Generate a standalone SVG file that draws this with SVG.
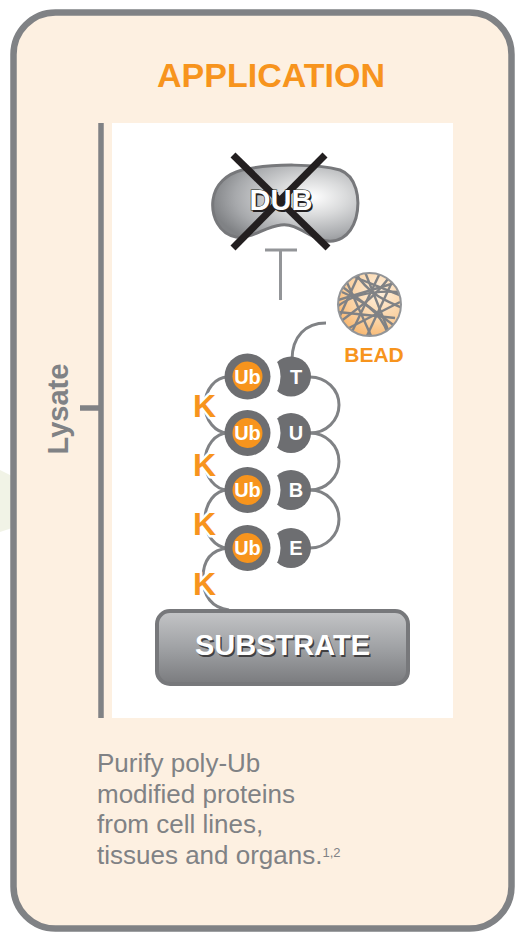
<svg xmlns="http://www.w3.org/2000/svg" width="515" height="933" viewBox="0 0 515 933">
  <style>
    .sans { font-family: "Liberation Sans", Arial, Helvetica, sans-serif; }
    .title { font-size: 34px; font-weight: bold; fill: #F7941D; }
    .body { font-size: 26px; fill: #808285; }
    .side { font-size: 29px; font-weight: bold; fill: #808285; }
    .k { font-size: 32px; font-weight: bold; fill: #F7941D; stroke: #FFFFFF; stroke-width: 5px; paint-order: stroke; stroke-linejoin: round; }
    .ubtxt { font-size: 20px; font-weight: bold; fill: #FFFFFF; }
    .disctxt { font-size: 20px; font-weight: bold; fill: #FFFFFF; }
    .link { fill: none; stroke: #808285; stroke-width: 3; }
    .ubouter { fill: #6D6E71; }
    .ubinner { fill: #F7941D; }
    .disc { fill: #6D6E71; }
    .mesh { fill: none; stroke: #808285; stroke-width: 2.4; }
  </style>
  <defs>
    <radialGradient id="dubFill" cx="0.68" cy="0.42" r="0.7">
      <stop offset="0" stop-color="#FFFFFF"/>
      <stop offset="0.35" stop-color="#D9DADB"/>
      <stop offset="0.75" stop-color="#A7A9AC"/>
      <stop offset="1" stop-color="#808285"/>
    </radialGradient>
    <radialGradient id="beadFill" cx="0.65" cy="0.3" r="0.8">
      <stop offset="0" stop-color="#FEF0DE"/>
      <stop offset="0.6" stop-color="#FBD2A2"/>
      <stop offset="1" stop-color="#F8B266"/>
    </radialGradient>
    <linearGradient id="subFill" x1="0" y1="0" x2="0" y2="1">
      <stop offset="0" stop-color="#C4C5C7"/>
      <stop offset="0.5" stop-color="#A0A2A5"/>
      <stop offset="1" stop-color="#7A7B7E"/>
    </linearGradient>
    <clipPath id="beadClip">
      <circle cx="369.5" cy="304.5" r="31.5"/>
    </clipPath>
    <!-- crescent cut that gives each TUBE domain its concave left side -->
    <mask id="discCut" maskUnits="userSpaceOnUse" x="-100" y="-100" width="715" height="300">
      <rect x="-100" y="-100" width="715" height="300" fill="#FFFFFF"/>
      <circle cx="247.5" cy="0" r="33" fill="#000000"/>
    </mask>
  </defs>

  <!-- faint backdrop shape at the left margin -->
  <path d="M0,470 L12,476 L12,528 L0,532 Z" fill="#F1F3E6"/>

  <!-- application panel -->
  <g id="panel">
    <rect x="13.5" y="12.5" width="498" height="916" rx="42" ry="42" fill="#FDF0E1" stroke="#808285" stroke-width="6.5"/>
    <text class="sans title" x="271" y="87" text-anchor="middle">APPLICATION</text>
  </g>

  <!-- white diagram field -->
  <rect x="112" y="123" width="341" height="595" fill="#FFFFFF"/>

  <!-- lysate bracket -->
  <g id="lysate">
    <line x1="101" y1="123" x2="101" y2="718" stroke="#808285" stroke-width="5.5"/>
    <line x1="80" y1="408" x2="101" y2="408" stroke="#808285" stroke-width="5.5"/>
    <text class="sans side" transform="translate(68,409) rotate(-90)" text-anchor="middle">Lysate</text>
  </g>

  <!-- connectors -->
  <g id="connectors">
    <!-- inhibition bar below DUB -->
    <line x1="265" y1="250" x2="297" y2="250" stroke="#939598" stroke-width="3"/>
    <line x1="280.5" y1="250" x2="280.5" y2="300" stroke="#939598" stroke-width="3"/>
    <!-- bead tether -->
    <path class="link" d="M326,323 C306,323 292,336 292,360"/>
    <!-- TUBE loops on the right -->
    <path class="link" d="M310,377 A29 28 0 0 1 310,433"/>
    <path class="link" d="M310,433 A29 28.5 0 0 1 310,490"/>
    <path class="link" d="M310,490 A29 29 0 0 1 310,548"/>
    <!-- ubiquitin chain links on the left -->
    <path class="link" d="M228,377 A23 28 0 0 0 228,433"/>
    <path class="link" d="M228,433 A23 28.5 0 0 0 228,490"/>
    <path class="link" d="M228,490 A23 29 0 0 0 228,548"/>
    <path class="link" d="M228,548 C210,550 203,562 203,578 C203,596 212,608 229,610"/>
  </g>

  <!-- deubiquitinase, crossed out -->
  <g id="dub">
    <path d="M242,170 C272,163 318,164 340,170 C356,176 361,198 356,218 C350,238 336,244 322,240 C306,235 296,223 281,225 C264,227 252,239 236,237 C219,234 211,216 213,200 C215,184 227,174 242,170 Z" fill="url(#dubFill)" stroke="#77787B" stroke-width="3"/>
    <line x1="233" y1="155" x2="328" y2="248" stroke="#231F20" stroke-width="7"/>
    <line x1="325" y1="155" x2="233" y2="248" stroke="#231F20" stroke-width="7"/>
    <text class="sans" x="282.5" y="211.5" text-anchor="middle" font-size="29" font-weight="bold" fill="#231F20">DUB</text>
    <text class="sans" x="281" y="210" text-anchor="middle" font-size="29" font-weight="bold" fill="#FFFFFF" stroke="#231F20" stroke-width="1.2" paint-order="stroke">DUB</text>
  </g>

  <!-- bead -->
  <g id="bead">
    <circle cx="369.5" cy="304.5" r="31.5" fill="url(#beadFill)"/>
    <g clip-path="url(#beadClip)" class="mesh">
      <path d="M340,285 L400,330"/>
      <path d="M345,278 L372,338"/>
      <path d="M360,272 L338,320"/>
      <path d="M352,276 L402,296"/>
      <path d="M338,300 L398,282"/>
      <path d="M338,312 L395,318"/>
      <path d="M380,273 L350,336"/>
      <path d="M392,282 L366,338"/>
      <path d="M400,302 L345,330"/>
      <path d="M342,292 C360,300 380,310 388,334"/>
      <path d="M356,274 C370,295 385,300 402,308"/>
      <path d="M340,322 C355,310 375,298 390,276"/>
      <path d="M365,272 L390,335"/>
      <path d="M338,306 C352,295 372,290 400,292"/>
    </g>
    <circle cx="369.5" cy="304.5" r="31.5" fill="none" stroke="#939598" stroke-width="2"/>
    <text class="sans" x="374" y="362" text-anchor="middle" font-size="21" font-weight="bold" fill="#F7941D">BEAD</text>
  </g>

  <!-- TUBE binding domains -->
  <g id="tube-t">
    <circle class="disc" cx="291" cy="0" r="20" mask="url(#discCut)" transform="translate(0,376.5)"/>
    <text class="sans disctxt" x="296" y="383.5" text-anchor="middle">T</text>
  </g>
  <g id="tube-u">
    <circle class="disc" cx="291" cy="0" r="20" mask="url(#discCut)" transform="translate(0,433)"/>
    <text class="sans disctxt" x="296" y="440" text-anchor="middle">U</text>
  </g>
  <g id="tube-b">
    <circle class="disc" cx="291" cy="0" r="20" mask="url(#discCut)" transform="translate(0,490)"/>
    <text class="sans disctxt" x="296" y="497" text-anchor="middle">B</text>
  </g>
  <g id="tube-e">
    <circle class="disc" cx="291" cy="0" r="20" mask="url(#discCut)" transform="translate(0,548)"/>
    <text class="sans disctxt" x="296" y="555" text-anchor="middle">E</text>
  </g>

  <!-- ubiquitin units -->
  <g id="ub1">
    <circle class="ubouter" cx="247.5" cy="376.5" r="23"/>
    <circle class="ubinner" cx="247.5" cy="376.5" r="15"/>
    <text class="sans ubtxt" x="247.5" y="383.5" text-anchor="middle">Ub</text>
  </g>
  <g id="ub2">
    <circle class="ubouter" cx="247.5" cy="433" r="23"/>
    <circle class="ubinner" cx="247.5" cy="433" r="15"/>
    <text class="sans ubtxt" x="247.5" y="440" text-anchor="middle">Ub</text>
  </g>
  <g id="ub3">
    <circle class="ubouter" cx="247.5" cy="490" r="23"/>
    <circle class="ubinner" cx="247.5" cy="490" r="15"/>
    <text class="sans ubtxt" x="247.5" y="497" text-anchor="middle">Ub</text>
  </g>
  <g id="ub4">
    <circle class="ubouter" cx="247.5" cy="548" r="23"/>
    <circle class="ubinner" cx="247.5" cy="548" r="15"/>
    <text class="sans ubtxt" x="247.5" y="555" text-anchor="middle">Ub</text>
  </g>

  <!-- lysine linkages -->
  <g id="lysines">
    <text class="sans k" x="193" y="417">K</text>
    <text class="sans k" x="193" y="476">K</text>
    <text class="sans k" x="193" y="535">K</text>
    <text class="sans k" x="193" y="595">K</text>
  </g>

  <!-- substrate -->
  <g id="substrate">
    <rect x="157" y="611" width="251" height="73" rx="13" ry="13" fill="url(#subFill)" stroke="#77787B" stroke-width="4"/>
    <text class="sans" x="284" y="656.5" text-anchor="middle" font-size="29" font-weight="bold" fill="#414042">SUBSTRATE</text>
    <text class="sans" x="282.5" y="655" text-anchor="middle" font-size="29" font-weight="bold" fill="#FFFFFF">SUBSTRATE</text>
  </g>

  <!-- caption -->
  <g id="caption">
    <text class="sans body" x="97" y="772">Purify poly-Ub</text>
    <text class="sans body" x="97" y="802.5">modified proteins</text>
    <text class="sans body" x="97" y="833">from cell lines,</text>
    <text class="sans body" x="97" y="863.5">tissues and organs.<tspan font-size="13" dy="-7">1,2</tspan></text>
  </g>
</svg>
